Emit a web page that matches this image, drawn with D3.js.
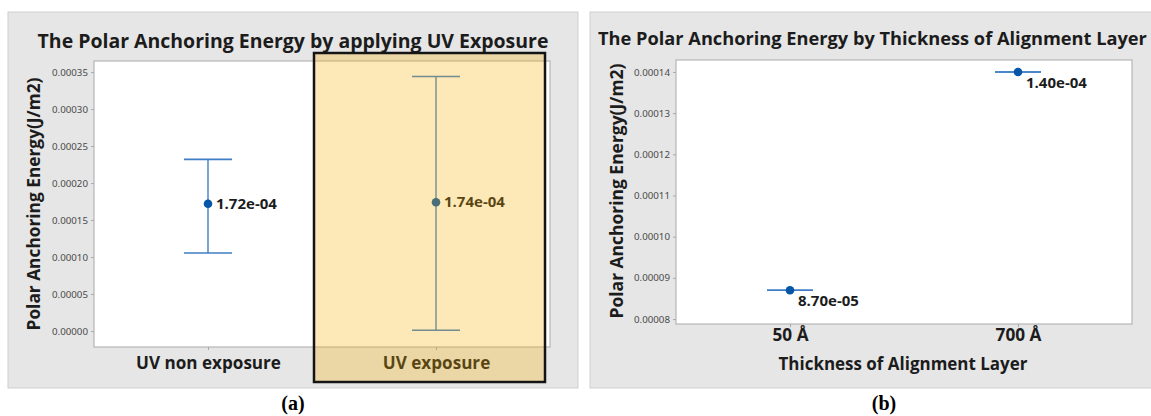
<!DOCTYPE html>
<html>
<head>
<meta charset="utf-8">
<script src="https://cdn.jsdelivr.net/npm/d3@7"></script>
<style>
  html, body { margin: 0; padding: 0; background: #ffffff; }
  svg { display: block; }
  text { font-family: "Open Sans", "Noto Sans", sans-serif; }
</style>
</head>
<body>
<svg id="chart" width="1151" height="416"></svg>
<script>
// ---------- data ----------
const uvCategories = ["UV non exposure", "UV exposure"];
const uvMeans = [1.72e-4, 1.74e-4];
const uvLower = [1.055e-4, 0.000001];
const uvUpper = [2.32e-4, 3.44e-4];
const uvLabels = ["1.72e-04", "1.74e-04"];
const uvTicks = [0, 0.00005, 0.0001, 0.00015, 0.0002, 0.00025, 0.0003, 0.00035];
const uvTickLabels = ["0.00000", "0.00005", "0.00010", "0.00015", "0.00020", "0.00025", "0.00030", "0.00035"];

const thickCategories = ["50 Å", "700 Å"];
const thickMeans = [8.7e-5, 1.4e-4];
const thickLower = [8.7e-5, 1.4e-4];
const thickUpper = [8.7e-5, 1.4e-4];
const thickLabels = ["8.70e-05", "1.40e-04"];
const thickTicks = [0.00008, 0.00009, 0.0001, 0.00011, 0.00012, 0.00013, 0.00014];
const thickTickLabels = ["0.00008", "0.00009", "0.00010", "0.00011", "0.00012", "0.00013", "0.00014"];

const titleA = "The Polar Anchoring Energy by applying UV Exposure";
const titleB = "The Polar Anchoring Energy by Thickness of Alignment Layer";
const yTitle = "Polar Anchoring Energy(J/m2)";
const xTitleB = "Thickness of Alignment Layer";

// ---------- styles ----------
const lineColor = "#3f7ec6";
const dotColor = "#0556a8";
const textDark = "#1c1c1c";

const svg = d3.select("#chart");

// scale a text's font-size so its rendered width matches a target width
function fit(sel, target) {
  const node = sel.node();
  const base = parseFloat(sel.style("font-size"));
  const w = node.getComputedTextLength();
  const size = base * target / w;
  sel.style("font-size", size + "px");
  return size;
}

function drawPanel(cfg) {
  const g = svg.append("g");
  g.append("rect")
    .attr("x", cfg.bg[0]).attr("y", cfg.bg[1])
    .attr("width", cfg.bg[2]).attr("height", cfg.bg[3])
    .attr("fill", "#e6e6e6").attr("stroke", "#cfcfcf").attr("stroke-width", 1);

  const [px0, py0, px1, py1] = cfg.plot;
  g.append("rect")
    .attr("x", px0).attr("y", py0)
    .attr("width", px1 - px0).attr("height", py1 - py0)
    .attr("fill", "#ffffff").attr("stroke", "#a9a9a9").attr("stroke-width", 1);

  const x = d3.scalePoint().domain(cfg.categories).range([px0, px1]).padding(0.5);
  const y = d3.scaleLinear().domain(cfg.yDomain).range([py1, py0]);

  // y axis
  const yAxis = d3.axisLeft(y).tickValues(cfg.ticks)
    .tickFormat((d, i) => cfg.tickLabels[i]).tickSize(3).tickPadding(3);
  const ya = g.append("g").attr("transform", `translate(${px0},0)`).call(yAxis);
  ya.select(".domain").remove();
  ya.selectAll(".tick line").attr("stroke", "#a9a9a9");
  const yt = ya.selectAll(".tick text").attr("fill", "#4a4a4a")
    .style("font-family", "'Noto Sans', 'Open Sans', sans-serif").style("font-size", "11px");
  const tsz = fit(d3.select(yt.nodes()[yt.size() - 1]), 36);
  yt.style("font-size", tsz + "px");

  // x axis
  const xAxis = d3.axisBottom(x).tickSize(3).tickPadding(4);
  const xa = g.append("g").attr("transform", `translate(0,${py1})`).call(xAxis);
  xa.select(".domain").remove();
  xa.selectAll(".tick line").attr("stroke", "#a9a9a9");
  const xt = xa.selectAll(".tick text").attr("fill", textDark)
    .style("font-size", "16px").style("font-weight", "bold")
    .attr("dy", cfg.xLabelDy);
  const xsz = fit(d3.select(xt.nodes()[0]), cfg.xLabelW);
  xt.style("font-size", xsz + "px");

  // title
  const t = g.append("text")
    .attr("x", cfg.titlePos[0]).attr("y", cfg.titlePos[1])
    .attr("text-anchor", cfg.titleAnchor)
    .attr("dominant-baseline", "central")
    .attr("fill", textDark)
    .style("font-size", "17px").style("font-weight", "bold")
    .text(cfg.title);
  fit(t, cfg.titleW);

  // y title
  const yl = g.append("text")
    .attr("transform", `translate(${cfg.yTitlePos[0]},${cfg.yTitlePos[1]}) rotate(-90)`)
    .attr("text-anchor", "middle").attr("dominant-baseline", "central")
    .attr("fill", textDark)
    .style("font-size", "15px").style("font-weight", "bold")
    .text(yTitle);
  fit(yl, cfg.yTitleW);

  if (cfg.xTitle) {
    const xl = g.append("text")
      .attr("x", (px0 + px1) / 2 - 1).attr("y", cfg.xTitleY)
      .attr("text-anchor", "middle").attr("dominant-baseline", "central")
      .attr("fill", textDark)
      .style("font-size", "16px").style("font-weight", "bold")
      .text(cfg.xTitle);
    fit(xl, cfg.xTitleW);
  }

  // interval marks
  const capHalf = cfg.capHalf;
  let lsz = null;
  cfg.categories.forEach((c, i) => {
    const cx = x(c);
    g.append("line")
      .attr("x1", cx).attr("x2", cx)
      .attr("y1", y(cfg.lower[i])).attr("y2", y(cfg.upper[i]))
      .attr("stroke", lineColor).attr("stroke-width", 1.4);
    [cfg.lower[i], cfg.upper[i]].forEach(v => {
      g.append("line")
        .attr("x1", cx - capHalf).attr("x2", cx + capHalf)
        .attr("y1", y(v)).attr("y2", y(v))
        .attr("stroke", lineColor).attr("stroke-width", 1.6);
    });
    g.append("circle")
      .attr("cx", cx).attr("cy", y(cfg.means[i])).attr("r", 4.3)
      .attr("fill", dotColor);
    const lt = g.append("text")
      .attr("x", cx + cfg.labelDx).attr("y", y(cfg.means[i]) + cfg.labelDy)
      .attr("dominant-baseline", "central")
      .attr("fill", textDark)
      .style("font-size", "13.5px").style("font-weight", "bold")
      .text(cfg.labels[i]);
    if (lsz === null) lsz = fit(lt, 61); else lt.style("font-size", lsz + "px");
  });
  return { g, x, y };
}

// ---------- panel (a) ----------
drawPanel({
  bg: [8, 12, 570, 376],
  plot: [94, 61, 550, 347],
  categories: uvCategories,
  yDomain: [-0.0000216, 0.000365],
  ticks: uvTicks, tickLabels: uvTickLabels,
  means: uvMeans, lower: uvLower, upper: uvUpper, labels: uvLabels,
  title: titleA, titlePos: [293, 40], titleAnchor: "middle", titleW: 511,
  yTitlePos: [33, 204], yTitleW: 253,
  xLabelDy: "0.85em", xLabelW: 145,
  capHalf: 24, labelDx: 8, labelDy: -1
});

// highlight overlay on "UV exposure"
svg.append("rect")
  .attr("x", 314).attr("y", 53).attr("width", 231).attr("height", 329)
  .attr("fill", "rgb(248,176,0)").attr("fill-opacity", 0.28)
  .attr("stroke", "#141414").attr("stroke-width", 2.5);

// ---------- panel (b) ----------
drawPanel({
  bg: [590, 12, 570, 376],
  plot: [676, 60, 1132, 324],
  categories: thickCategories,
  yDomain: [0.0000788, 0.0001429],
  ticks: thickTicks, tickLabels: thickTickLabels,
  means: thickMeans, lower: thickLower, upper: thickUpper, labels: thickLabels,
  title: titleB, titlePos: [598, 38], titleAnchor: "start", titleW: 549,
  yTitlePos: [616, 191], yTitleW: 255,
  xLabelDy: "0.6em", xLabelW: 36,
  xTitle: xTitleB, xTitleY: 363, xTitleW: 249,
  capHalf: 23, labelDx: 8, labelDy: 10
});

// captions
svg.append("text").attr("x", 293).attr("y", 410).attr("text-anchor", "middle")
  .style("font-family", "'Liberation Serif', serif").style("font-size", "20px")
  .style("font-weight", "bold").attr("fill", "#000").text("(a)");
svg.append("text").attr("x", 884).attr("y", 410).attr("text-anchor", "middle")
  .style("font-family", "'Liberation Serif', serif").style("font-size", "20px")
  .style("font-weight", "bold").attr("fill", "#000").text("(b)");
</script>
</body>
</html>
